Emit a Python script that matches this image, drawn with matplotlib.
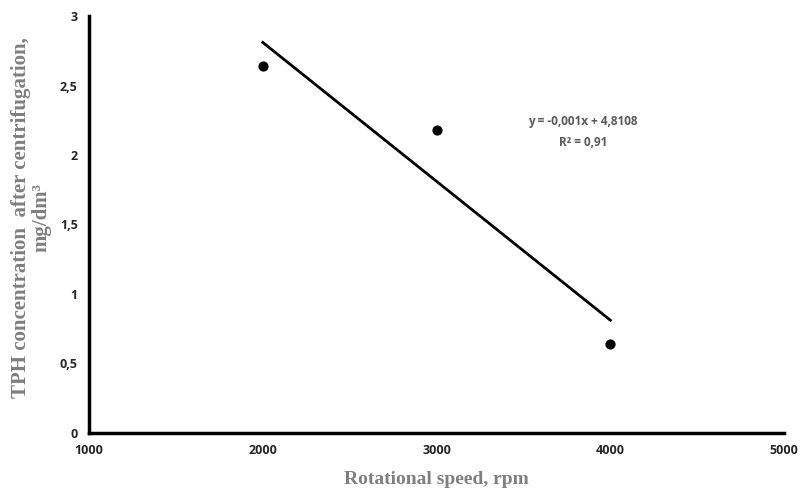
import numpy as np
import matplotlib
matplotlib.use('Agg')
import matplotlib.pyplot as plt
from matplotlib.ticker import FuncFormatter


# measured points
speed_rpm = [2000, 3000, 4000]
tph_conc = [2.64, 2.18, 0.64]

# linear trend from the chart
slope = -0.001
intercept = 4.8108
r_squared = 0.91

x_ticks = [1000, 2000, 3000, 4000, 5000]
y_ticks = [0, 0.5, 1, 1.5, 2, 2.5, 3]


def comma_fmt(v, pos):
    s = f'{v:g}'
    return s.replace('.', ',')


fig = plt.figure(figsize=(8.01, 4.88), dpi=100)
ax = fig.add_axes([0.111, 0.113, 0.868, 0.854])

ax.scatter(speed_rpm, tph_conc, s=40, color='black', zorder=3)

trend_x = np.array([speed_rpm[0], speed_rpm[-1]])
ax.plot(trend_x, slope * trend_x + intercept, color='black', lw=2)

ax.text(3843, 2.24, 'y = -0,001x + 4,8108', ha='center', va='center',
        fontsize=8.5, color='#595959', family='Open Sans', fontweight='bold')
ax.text(3843, 2.09, 'R² = 0,91', ha='center', va='center',
        fontsize=8.5, color='#595959', family='Open Sans', fontweight='bold')

ax.set_xlim(1000, 5000)
ax.set_ylim(0, 3)
ax.set_xticks(x_ticks)
ax.set_yticks(y_ticks)
ax.yaxis.set_major_formatter(FuncFormatter(comma_fmt))
ax.tick_params(length=0, pad=8, labelsize=9, labelcolor='#262626')
for lab in ax.get_xticklabels() + ax.get_yticklabels():
    lab.set_fontweight('bold')
    lab.set_family('Open Sans')

for side in ['top', 'right']:
    ax.spines[side].set_visible(False)
for side in ['left', 'bottom']:
    ax.spines[side].set_linewidth(2.5)
    ax.spines[side].set_color('black')

ax.set_xlabel('Rotational speed, rpm', fontsize=14, fontweight='bold',
              family='Liberation Serif', color='#7f7f7f', labelpad=10)
ax.set_ylabel('TPH concentration  after centrifugation,\nmg/dm³', fontsize=15,
              fontweight='bold', family='Liberation Serif', color='#7f7f7f',
              linespacing=1.0)
ax.yaxis.set_label_coords(-0.054, 0.516)

fig.savefig('out.png', dpi=100)
